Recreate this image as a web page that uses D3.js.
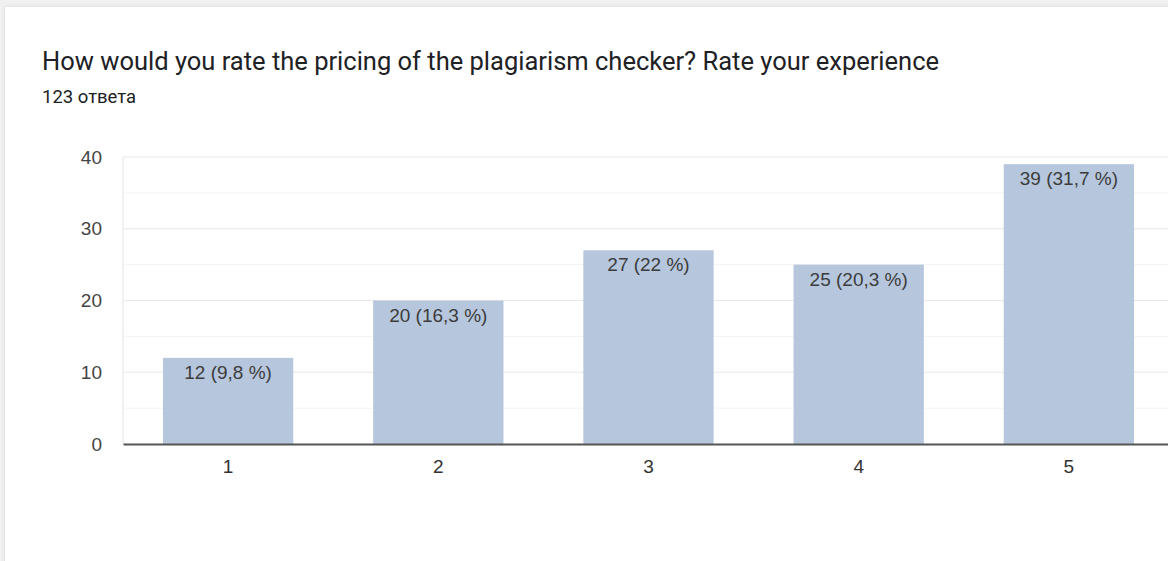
<!DOCTYPE html>
<html>
<head>
<meta charset="utf-8">
<script src="https://cdn.jsdelivr.net/npm/d3@7"></script>
<style>
  body { margin: 0; background: #f1f1f1; overflow: hidden; }
  #card { position: absolute; left: 5px; top: 7px; width: 1200px; height: 600px; background: #fff;
          box-shadow: 0 0 4px rgba(0,0,0,0.12); }
</style>
</head>
<body>
<div id="card"></div>
<script>
var categories = ["1", "2", "3", "4", "5"];
var counts = [12, 20, 27, 25, 39];
var percents = ["9,8", "16,3", "22", "20,3", "31,7"];
var yTicks = [0, 10, 20, 30, 40];
var title = "How would you rate the pricing of the plagiarism checker? Rate your experience";
var subtitle = "123 ответа";

var data = categories.map(function (c, i) {
  return { group: c, value: counts[i], pct: percents[i] };
});

var svg = d3.select("body")
  .append("svg")
  .attr("width", 1168)
  .attr("height", 561)
  .style("position", "absolute")
  .style("left", 0)
  .style("top", 0);

svg.append("text")
  .attr("x", 42).attr("y", 70)
  .attr("font-family", "Roboto, sans-serif")
  .attr("font-size", 25.5)
  .attr("fill", "#202124")
  .text(title);

svg.append("text")
  .attr("x", 42).attr("y", 103)
  .attr("font-family", "Roboto, sans-serif")
  .attr("font-size", 18.5)
  .attr("fill", "#202124")
  .text(subtitle);

var margin = { left: 123, top: 157 };
var width = 1051, height = 287;

var g = svg.append("g")
  .attr("transform", "translate(" + margin.left + "," + margin.top + ")");

var x = d3.scaleBand()
  .domain(categories)
  .range([0, width])
  .paddingInner(0.38)
  .paddingOuter(0.19);

var y = d3.scaleLinear()
  .domain([0, 40])
  .range([height, 0]);

// minor gridlines
g.append("g").selectAll("line")
  .data(d3.range(5, 40, 10))
  .enter().append("line")
  .attr("x1", 0).attr("x2", width)
  .attr("y1", function (d) { return y(d); })
  .attr("y2", function (d) { return y(d); })
  .attr("stroke", "#f3f3f3");

// major gridlines
g.append("g").selectAll("line")
  .data(yTicks.slice(1))
  .enter().append("line")
  .attr("x1", 0).attr("x2", width)
  .attr("y1", function (d) { return y(d); })
  .attr("y2", function (d) { return y(d); })
  .attr("stroke", "#e8e8e8")
  .attr("stroke-width", 1.2);

g.append("line")
  .attr("x1", 0).attr("x2", 0)
  .attr("y1", 0).attr("y2", height)
  .attr("stroke", "#e8e8e8")
  .attr("stroke-width", 1.2);

// y axis labels
var yAxis = g.append("g")
  .call(d3.axisLeft(y).tickValues(yTicks).tickSize(0).tickPadding(21));
yAxis.select(".domain").remove();
yAxis.selectAll("text")
  .attr("font-family", "Arial, 'Liberation Sans', sans-serif")
  .attr("font-size", 19)
  .attr("fill", "#444");

// bars
g.selectAll("rect.bar")
  .data(data)
  .enter().append("rect")
  .attr("class", "bar")
  .attr("x", function (d) { return x(d.group); })
  .attr("y", function (d) { return y(d.value); })
  .attr("width", x.bandwidth())
  .attr("height", function (d) { return height - y(d.value); })
  .attr("fill", "#b6c7dd");

g.selectAll("text.lbl")
  .data(data)
  .enter().append("text")
  .attr("class", "lbl")
  .attr("x", function (d) { return x(d.group) + x.bandwidth() / 2; })
  .attr("y", function (d) { return y(d.value) + 21; })
  .attr("text-anchor", "middle")
  .attr("font-family", "Arial, 'Liberation Sans', sans-serif")
  .attr("font-size", 19)
  .attr("fill", "#3c3c3c")
  .text(function (d) { return d.value + " (" + d.pct + " %)"; });

// x axis
var xAxis = g.append("g")
  .attr("transform", "translate(0," + height + ")")
  .call(d3.axisBottom(x).tickSize(0).tickPadding(15.5));
xAxis.select(".domain")
  .attr("stroke", "#555")
  .attr("stroke-width", 2);
xAxis.selectAll("text")
  .attr("font-family", "Arial, 'Liberation Sans', sans-serif")
  .attr("font-size", 19)
  .attr("fill", "#333");
</script>
</body>
</html>
